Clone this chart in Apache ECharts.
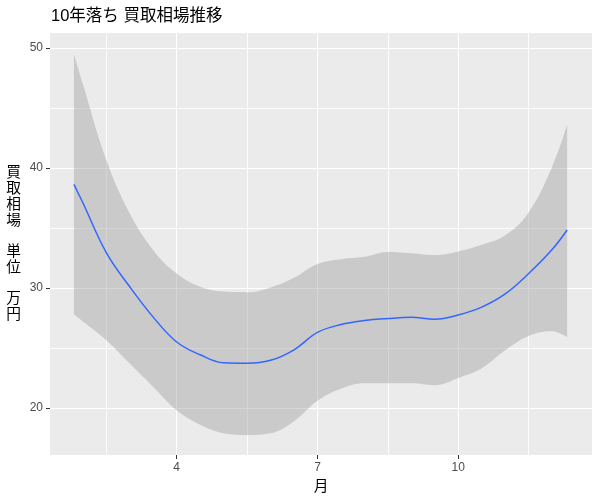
<!DOCTYPE html>
<html><head><meta charset="utf-8">
<script src="https://cdn.jsdelivr.net/npm/echarts@6/dist/echarts.min.js"></script>
<style>html,body{margin:0;padding:0;background:#fff}#c{width:600px;height:500px}</style>
</head><body><div id="c"></div>
<script>
const months = [1.81,2.0,2.5,3.0,3.5,4.0,4.5,5.0,5.5,6.0,6.5,7.0,7.5,8.0,8.5,9.0,9.5,10.0,10.5,11.0,11.5,12.0,12.32];
const fitValues = [38.64,37.1,32.95,30.1,27.57,25.5,24.43,23.76,23.72,23.97,24.85,26.3,26.95,27.28,27.45,27.55,27.4,27.75,28.4,29.5,31.2,33.2,34.83];
const upperValues = [49.5,47.0,40.67,36.2,33.15,31.2,30.1,29.7,29.65,30.05,30.85,32.0,32.4,32.6,33.0,32.9,32.75,33.05,33.6,34.4,36.3,40.1,43.6];
const lowerValues = [27.8,27.2,25.65,23.7,21.75,19.8,18.6,17.9,17.75,17.9,18.9,20.6,21.6,22.06,22.06,22.06,21.9,22.5,23.3,24.8,26.0,26.4,25.9];
const xTicks = [4,7,10];
const xMinorTicks = [2.5,5.5,8.5,11.5];
const yTicks = [20,30,40,50];
const yMinorTicks = [25,35,45];
const titleText = '10年落ち 買取相場推移';
const xTitle = '月';
const yTitle = '買\n取\n相\n場\n\n単\n位\n\n万\n円';

const FONT = '"Liberation Sans", "Noto Sans CJK JP", sans-serif';
const X_MIN = 1.30, X_MAX = 12.85, Y_MIN = 16.08, Y_MAX = 51.25;

const chart = echarts.init(document.getElementById('c'), null, {renderer: 'canvas'});
const majorAxis = (vals) => ({
  axisLine: {show: false},
  axisTick: {show: true, customValues: vals, length: 4, lineStyle: {color: '#333333', width: 1}},
  axisLabel: {customValues: vals, color: '#4D4D4D', fontSize: 12, margin: 7, fontFamily: FONT},
  splitLine: {show: true, lineStyle: {color: '#FFFFFF', width: 1}}
});
const minorAxis = (vals) => ({
  axisLine: {show: false},
  axisTick: {show: true, customValues: vals, length: 0, lineStyle: {opacity: 0}},
  axisLabel: {show: false, customValues: vals},
  splitLine: {show: true, lineStyle: {color: '#FFFFFF', width: 1, opacity: 0.85}}
});

// band data: value column first so the stack applies to the value, months mapped to x via encode
const lowerData = months.map((m, i) => [lowerValues[i], m]);
const bandData = months.map((m, i) => [upperValues[i] - lowerValues[i], m]);

chart.setOption({
  animation: false,
  backgroundColor: '#FFFFFF',
  title: {text: titleText, left: 51, top: 8, padding: 0,
    textStyle: {fontSize: 16.5, fontWeight: 'normal', color: '#000000', fontFamily: FONT}},
  grid: {left: 50, right: 8, top: 33, bottom: 45, show: true, backgroundColor: '#EBEBEB', borderWidth: 0, containLabel: false},
  xAxis: [
    Object.assign({type: 'value', min: X_MIN, max: X_MAX, position: 'bottom',
      name: xTitle, nameLocation: 'middle', nameGap: 25,
      nameTextStyle: {color: '#000000', fontSize: 14.7, fontFamily: FONT}}, majorAxis(xTicks)),
    Object.assign({type: 'value', min: X_MIN, max: X_MAX, position: 'bottom'}, minorAxis(xMinorTicks))
  ],
  yAxis: [
    Object.assign({type: 'value', min: Y_MIN, max: Y_MAX, position: 'left',
      name: yTitle, nameLocation: 'middle', nameGap: 29, nameRotate: 0,
      nameTextStyle: {color: '#000000', fontSize: 14.7, lineHeight: 15.7, fontFamily: FONT, padding: [6, 0, 0, 0]}}, majorAxis(yTicks)),
    Object.assign({type: 'value', min: Y_MIN, max: Y_MAX, position: 'left'}, minorAxis(yMinorTicks))
  ],
  series: [
    {type: 'line', name: 'lower', xAxisIndex: 0, yAxisIndex: 0, stack: 'ci', symbol: 'none', smooth: 0.4, silent: true,
      encode: {x: 1, y: 0}, lineStyle: {opacity: 0}, data: lowerData},
    {type: 'line', name: 'band', xAxisIndex: 0, yAxisIndex: 0, stack: 'ci', symbol: 'none', smooth: 0.4, silent: true,
      encode: {x: 1, y: 0}, lineStyle: {opacity: 0}, areaStyle: {color: 'rgba(153,153,153,0.4)', opacity: 1},
      data: bandData},
    {type: 'line', name: 'fit', xAxisIndex: 0, yAxisIndex: 0, symbol: 'none', smooth: 0.4, z: 5,
      lineStyle: {color: '#3366FF', width: 1.5}, data: months.map((m, i) => [m, fitValues[i]])}
  ]
});
</script></body></html>
